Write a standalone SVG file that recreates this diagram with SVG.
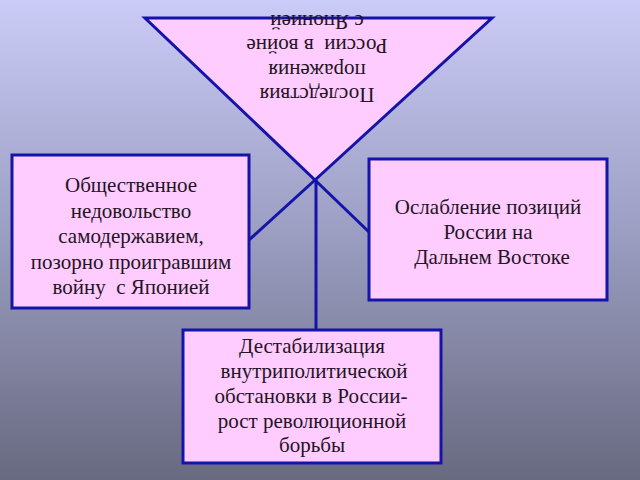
<svg xmlns="http://www.w3.org/2000/svg" width="640" height="480" viewBox="0 0 640 480">
  <defs>
    <linearGradient id="bg" x1="0" y1="0" x2="0" y2="1">
      <stop offset="0" stop-color="#cbcbf7"/>
      <stop offset="0.5" stop-color="#9a9cc0"/>
      <stop offset="1" stop-color="#686a80"/>
    </linearGradient>
  </defs>
  <style>
    .shape { fill: #ffccff; stroke: #1414a8; stroke-width: 3; }
    .conn { stroke: #1414a8; stroke-width: 3; fill: none; }
    text { font-family: 'Liberation Serif', 'DejaVu Serif', serif; font-size: 21px; fill: #231423; text-anchor: middle; }
  </style>
  <rect x="0" y="0" width="640" height="480" fill="url(#bg)"/>

  <g id="connectors">
    <line class="conn" x1="315" y1="180" x2="249" y2="240"/>
    <line class="conn" x1="315" y1="180" x2="369" y2="232"/>
    <line class="conn" x1="316" y1="180" x2="316" y2="330"/>
  </g>

  <g id="node-triangle">
    <polygon class="shape" points="145,18 492,18 315,180"/>
    <g transform="rotate(180 317 50)" font-family="Liberation Serif, serif">
      <text x="317" y="12">Последствия</text>
      <text x="317" y="36.5">поражения</text>
      <text x="317" y="61" xml:space="preserve">России  в войне</text>
      <text x="317" y="85.5">с Японией</text>
    </g>
  </g>

  <g id="node-left" font-family="Liberation Serif, serif">
    <rect class="shape" x="12" y="155" width="237" height="153"/>
    <text x="131" y="192">Общественное</text>
    <text x="131" y="217.5">недовольство</text>
    <text x="131" y="243">самодержавием,</text>
    <text x="131" y="268.5">позорно проигравшим</text>
    <text x="131" y="294" xml:space="preserve">войну  с Японией</text>
  </g>

  <g id="node-right" font-family="Liberation Serif, serif">
    <rect class="shape" x="369" y="159" width="238" height="141"/>
    <text x="488" y="214">Ослабление позиций</text>
    <text x="488" y="239">России на</text>
    <text x="492" y="264">Дальнем Востоке</text>
  </g>

  <g id="node-bottom" font-family="Liberation Serif, serif">
    <rect class="shape" x="183" y="330" width="258" height="133"/>
    <text x="312" y="353">Дестабилизация</text>
    <text x="314" y="378">внутриполитической</text>
    <text x="311" y="403">обстановки в России-</text>
    <text x="312" y="428">рост революционной</text>
    <text x="312" y="452">борьбы</text>
  </g>
</svg>
